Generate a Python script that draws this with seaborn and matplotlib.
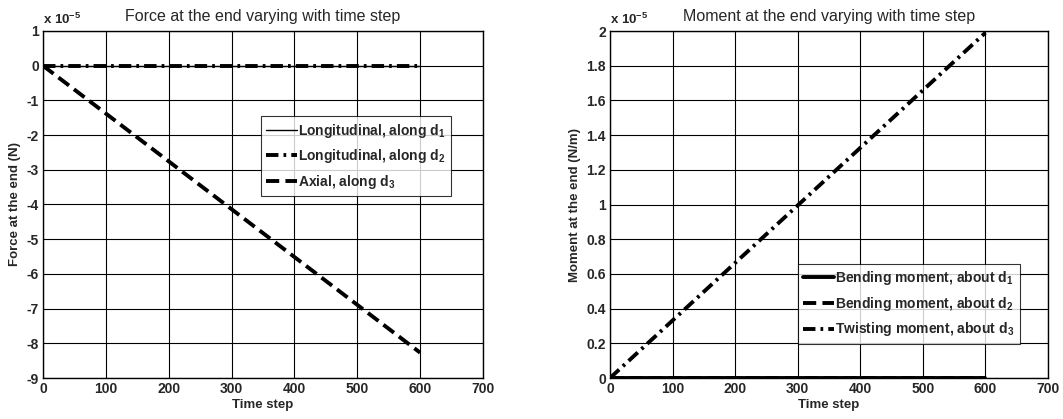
import matplotlib
matplotlib.use("Agg")
import matplotlib.pyplot as plt
import matplotlib.ticker as mticker
import seaborn as sns
import pandas as pd

# data (values in N and N/m)
time_step = [0, 600]
force_d1 = [0.0, 0.0]
force_d2 = [0.0, 0.0]
force_d3 = [0.0, -8.27e-5]
moment_d1 = [0.0, 0.0]
moment_d2 = [0.0, 0.0]
moment_d3 = [0.0, 1.99e-5]

sns.set_style("white")
plt.rcParams['font.family'] = ['Liberation Sans', 'DejaVu Sans']
plt.rcParams['mathtext.fontset'] = 'custom'
plt.rcParams['mathtext.rm'] = 'Liberation Sans:bold'
plt.rcParams['mathtext.bf'] = 'Liberation Sans:bold'

DASHDOT = (0, (3.2, 1.3, 0.7, 1.3))
DASHED = (0, (3.4, 1.6))

W, H = 1063, 419
fig = plt.figure(figsize=(W / 100, H / 100), dpi=100)
ax1 = fig.add_axes([43 / W, 1 - 378 / H, 440 / W, 347 / H])
ax2 = fig.add_axes([610 / W, 1 - 378 / H, 438 / W, 347 / H])

sci = mticker.FuncFormatter(lambda v, p: f"{v / 1e-5:g}")


def draw(ax, ys, styles, widths, labels):
    for y, ls, lw, lab in zip(ys, styles, widths, labels):
        df = pd.DataFrame({"t": time_step, "v": y})
        sns.lineplot(data=df, x="t", y="v", ax=ax, color="black",
                     linestyle=ls, linewidth=lw, label=lab, legend=False)


draw(ax1, [force_d1, force_d2, force_d3], ["-", DASHDOT, DASHED], [1.0, 2.8, 2.8],
     ["Longitudinal, along $\\mathregular{d_1}$", "Longitudinal, along $\\mathregular{d_2}$",
      "Axial, along $\\mathregular{d_3}$"])
draw(ax2, [moment_d1, moment_d2, moment_d3], ["-", DASHED, DASHDOT], [2.8, 2.8, 2.8],
     ["Bending moment, about $\\mathregular{d_1}$", "Bending moment, about $\\mathregular{d_2}$",
      "Twisting moment, about $\\mathregular{d_3}$"])

ax1.set_ylim(-9e-5, 1e-5)
ax1.set_yticks([i * 1e-5 for i in range(-9, 2)])
ax2.set_ylim(0, 2e-5)
ax2.set_yticks([i * 0.2e-5 for i in range(11)])

ax1.set_title("Force at the end varying with time step", fontsize=11.5, pad=7)
ax2.set_title("Moment at the end varying with time step", fontsize=11.5, pad=7)
ax1.set_ylabel("Force at the end (N)", fontsize=9.5, fontweight="bold", labelpad=4)
ax2.set_ylabel("Moment at the end (N/m)", fontsize=9.5, fontweight="bold", labelpad=4)

for ax in (ax1, ax2):
    ax.set_xlim(0, 700)
    ax.set_xticks(range(0, 701, 100))
    ax.yaxis.set_major_formatter(sci)
    ax.set_xlabel("Time step", fontsize=9.5, fontweight="bold", labelpad=2)
    ax.grid(True, color="black", linewidth=0.8)
    ax.tick_params(direction="in", labelsize=10, length=3, pad=3)
    for lab in ax.get_xticklabels() + ax.get_yticklabels():
        lab.set_fontweight("bold")
    for s in ax.spines.values():
        s.set_color("black")
        s.set_linewidth(1.0)
    ax.text(0.0, 1.012, "x 10$^{\\mathregular{-5}}$", transform=ax.transAxes,
            fontsize=9.5, fontweight="bold", ha="left", va="bottom")

leg_kw = dict(fontsize=10, frameon=True, fancybox=False, edgecolor="black",
              handlelength=2.2, handletextpad=0.1, borderpad=0.4, labelspacing=0.55,
              borderaxespad=0)
l1 = ax1.legend(handles=ax1.get_lines()[:3], loc="upper left",
                bbox_to_anchor=(0.495, 0.755), **leg_kw)
l2 = ax2.legend(handles=ax2.get_lines()[:3], loc="lower right",
                bbox_to_anchor=(0.936, 0.098), **leg_kw)
for lg in (l1, l2):
    lg.get_frame().set_linewidth(0.8)
    for t in lg.get_texts():
        t.set_fontweight("bold")

fig.savefig("out.png", dpi=100)
